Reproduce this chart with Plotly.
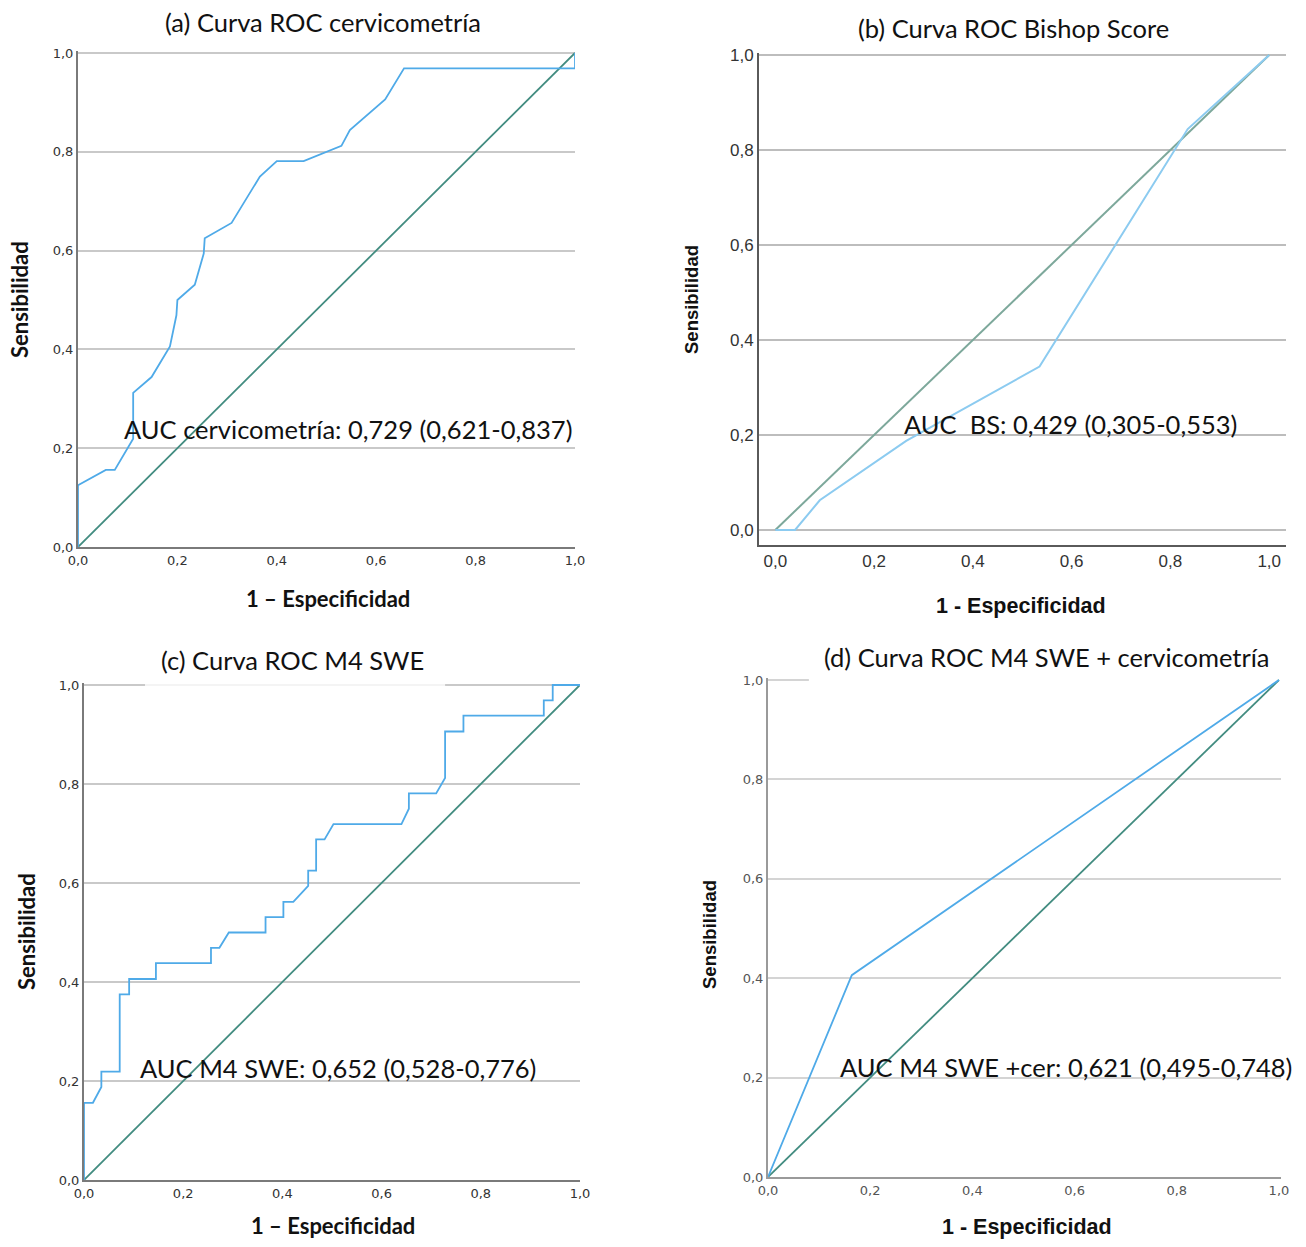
import plotly.graph_objects as go

# reference frame (pixels of the target picture)
W0, H0 = 1306, 1247
# figure kept a few pixels shorter than the window so the page never overflows
FW, FH = 1306, 1241

# ---------------- data ----------------
# (a) Curva ROC cervicometría
a_fpr = [0, 0, 0.056, 0.074, 0.111, 0.111, 0.148, 0.185, 0.198, 0.2, 0.235, 0.253, 0.255,
         0.309, 0.366, 0.4, 0.454, 0.53, 0.547, 0.618, 0.656, 1.0, 1.0]
a_tpr = [0, 0.125, 0.156, 0.156, 0.219, 0.312, 0.344, 0.406, 0.469, 0.5, 0.531, 0.594, 0.625,
         0.656, 0.75, 0.781, 0.781, 0.812, 0.844, 0.906, 0.969, 0.969, 1.0]

# (b) Curva ROC Bishop Score
b_fpr = [0, 0.04, 0.09, 0.265, 0.535, 0.835, 1.0]
b_tpr = [0, 0, 0.0625, 0.1875, 0.344, 0.844, 1.0]

# (c) Curva ROC M4 SWE
c_fpr = [0, 0, 0.018, 0.035, 0.035, 0.072, 0.072, 0.091, 0.091, 0.145,
         0.145, 0.256, 0.256, 0.273, 0.292, 0.366, 0.366, 0.402, 0.402, 0.422,
         0.452, 0.452, 0.468, 0.468, 0.485, 0.503, 0.64, 0.655, 0.655, 0.71,
         0.728, 0.728, 0.765, 0.765, 0.927, 0.927, 0.945, 0.945, 1.0]
c_tpr = [0, 0.156, 0.156, 0.188, 0.219, 0.219, 0.375, 0.375, 0.406, 0.406,
         0.438, 0.438, 0.469, 0.469, 0.5, 0.5, 0.531, 0.531, 0.562, 0.562,
         0.594, 0.625, 0.625, 0.688, 0.688, 0.719, 0.719, 0.75, 0.781, 0.781,
         0.812, 0.906, 0.906, 0.938, 0.938, 0.969, 0.969, 1.0, 1.0]

# (d) Curva ROC M4 SWE + cervicometría
d_fpr = [0, 0.164, 1.0]
d_tpr = [0, 0.406, 1.0]

diag_x = [0, 1]
diag_y = [0, 1]

tick_vals = [0, 0.2, 0.4, 0.6, 0.8, 1.0]
tick_text = ["0,0", "0,2", "0,4", "0,6", "0,8", "1,0"]

panel_titles = ["(a) Curva ROC cervicometría", "(b) Curva ROC Bishop Score",
                "(c) Curva ROC M4 SWE", "(d) Curva ROC M4 SWE + cervicometría"]
auc_texts = ["AUC cervicometría: 0,729 (0,621-0,837)", "AUC  BS: 0,429 (0,305-0,553)",
             "AUC M4 SWE: 0,652 (0,528-0,776)", "AUC M4 SWE +cer: 0,621 (0,495-0,748)"]
x_titles = ["1 – Especificidad", "1 - Especificidad", "1 – Especificidad", "1 - Especificidad"]
y_title = "Sensibilidad"

# ---------------- styling ----------------
BLUE = "#4FAAE8"
TEAL = "#428C80"
BLUE_B = "#8CCBF0"
TEAL_B = "#7DA89B"


def px(x):
    return x / FW


def py(y):
    return 1 - y / FH


def xd(l, r):
    return [px(l), px(r)]


def yd(top, bottom):
    return [py(bottom), py(top)]


fig = go.Figure()

series = [
    (a_fpr, a_tpr, "x", "y", BLUE, TEAL, 1.8),
    (b_fpr, b_tpr, "x2", "y2", BLUE_B, TEAL_B, 2.0),
    (c_fpr, c_tpr, "x3", "y3", BLUE, TEAL, 1.8),
    (d_fpr, d_tpr, "x4", "y4", BLUE, TEAL, 1.8),
]
for fx, fy, xa, ya, cb, cd, lw in series:
    fig.add_trace(go.Scatter(x=diag_x, y=diag_y, xaxis=xa, yaxis=ya, mode="lines",
                             line=dict(color=cd, width=lw), showlegend=False, hoverinfo="skip"))
    fig.add_trace(go.Scatter(x=fx, y=fy, xaxis=xa, yaxis=ya, mode="lines",
                             line=dict(color=cb, width=lw), showlegend=False))

small_font = dict(family="DejaVu Sans", size=13, color="#333333")
b_font = dict(family="Liberation Sans", size=17, color="#333333")


def xaxis(domain, rng, anchor, linecolor, font, lw=2):
    return dict(domain=domain, range=rng, anchor=anchor, showgrid=False, zeroline=False,
                showline=True, linecolor=linecolor, linewidth=lw, ticks="",
                tickmode="array", tickvals=tick_vals, ticktext=tick_text, tickfont=font,
                fixedrange=True, automargin=False)


def yaxis(domain, rng, anchor, linecolor, gridcolor, font, lw=2, gw=1.5):
    return dict(domain=domain, range=rng, anchor=anchor, showgrid=True, gridcolor=gridcolor,
                gridwidth=gw, zeroline=False, showline=True, linecolor=linecolor, linewidth=lw,
                ticks="", tickmode="array", tickvals=tick_vals, ticktext=tick_text,
                tickfont=font, fixedrange=True, automargin=False)


layout = dict(
    width=FW, height=FH, margin=dict(l=0, r=0, t=0, b=0),
    paper_bgcolor="white", plot_bgcolor="white", showlegend=False,
    xaxis=xaxis(xd(78, 575), [0, 1], "y", "#7a7a7a", small_font),
    yaxis=yaxis(yd(50.5, 547), [0, 1.005], "x", "#7a7a7a", "#c9c9c9", small_font),
    xaxis2=xaxis(xd(759, 1286), [-0.033, 1.034], "y2", "#5a5a5a", b_font, lw=1.8),
    yaxis2=yaxis(yd(52.6, 544.7), [-0.031, 1.005], "x2", "#5a5a5a", "#bdbdbd", b_font, lw=1.8, gw=2),
    xaxis3=xaxis(xd(84, 580), [0, 1], "y3", "#7a7a7a", small_font),
    yaxis3=yaxis(yd(682.5, 1180), [0, 1.005], "x3", "#7a7a7a", "#c9c9c9", small_font),
    xaxis4=xaxis(xd(768, 1281), [0, 1.004], "y4", "#9a9a9a", dict(small_font, color="#555555")),
    yaxis4=yaxis(yd(677.5, 1177), [0, 1.005], "x4", "#9a9a9a", "#d4d4d4",
                 dict(small_font, color="#555555")),
)
fig.update_layout(**layout)

# partially hidden top gridlines (as in the reference)
fig.add_shape(type="rect", xref="x3", yref="y3", x0=0.123, x1=0.728, y0=0.99, y1=1.005,
              fillcolor="rgba(255,255,255,0.8)", line=dict(width=0), layer="between")
fig.add_shape(type="rect", xref="x4", yref="y4", x0=0.08, x1=1.004, y0=0.99, y1=1.005,
              fillcolor="white", line=dict(width=0), layer="between")


def ann(text, x, y, font, xanchor="center", angle=0, yanchor="middle"):
    fig.add_annotation(text=text, xref="paper", yref="paper", x=px(x), y=py(y),
                       xanchor=xanchor, yanchor=yanchor, showarrow=False, font=font,
                       textangle=angle)


title_font = dict(family="Lato", size=25.5, color="#111111")
auc_font = dict(family="Lato", size=25.5, color="#111111")
ax_font_ac = dict(family="Lato", size=22, color="#111111", weight="bold")
ax_font_bd = dict(family="Liberation Sans", size=21.5, color="#111111", weight="bold")
yax_font_bd = dict(family="Liberation Sans", size=18.5, color="#111111", weight="bold")

# panel titles
ann(panel_titles[0], 323, 22, title_font)
ann(panel_titles[1], 1013, 28, title_font)
ann(panel_titles[2], 292, 660, title_font)
ann(panel_titles[3], 1047, 657, title_font)

# AUC texts
ann(auc_texts[0], 122, 429, auc_font, xanchor="left")
ann(auc_texts[1], 902, 424, auc_font, xanchor="left")
ann(auc_texts[2], 138, 1068, auc_font, xanchor="left")
ann(auc_texts[3], 838, 1067, auc_font, xanchor="left")

# axis titles
ann(x_titles[0], 328, 599, ax_font_ac)
ann(x_titles[1], 1021, 606, ax_font_bd)
ann(x_titles[2], 333, FH, ax_font_ac, yanchor="bottom")
ann(x_titles[3], 1027, FH, ax_font_bd, yanchor="bottom")

ann(y_title, 20, 300, ax_font_ac, angle=-90)
ann(y_title, 692, 300, yax_font_bd, angle=-90)
ann(y_title, 26, 932, ax_font_ac, angle=-90)
ann(y_title, 709, 935, yax_font_bd, angle=-90)

fig.write_html("out.html")
